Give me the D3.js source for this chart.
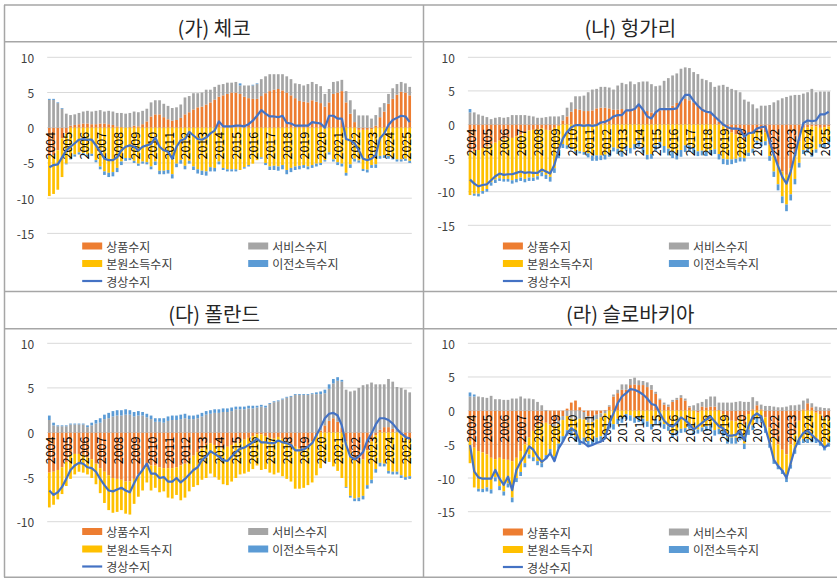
<!DOCTYPE html>
<html>
<head>
<meta charset="utf-8">
<script src="https://cdn.jsdelivr.net/npm/d3@7"></script>
<style>
  body { margin: 0; background: #fff; }
  svg { display: block; font-family: "Noto Sans CJK KR", "Noto Sans", sans-serif; }
</style>
</head>
<body>
<svg id="chart" width="837" height="579"></svg>
<script>
// quarterly, 2004Q1 - 2025Q2 (% of GDP)
var yearLabels = ["2004","2005","2006","2007","2008","2009","2010","2011","2012","2013","2014",
  "2015","2016","2017","2018","2019","2020","2021","2022","2023","2024","2025"];
var seriesNames = ["상품수지", "서비스수지", "본원소득수지", "이전소득수지"];
var lineName = "경상수지";

var czTicks = [10, 5, 0, -5, -10, -15];
var huTicks = [10, 5, 0, -5, -10, -15];
var plTicks = [10, 5, 0, -5, -10];
var skTicks = [10, 5, 0, -5, -10, -15];

// (가) 체코
var czGoods = [
  -4.0,-3.9,-3.2,-1.5, -0.8,0.3,0.4,0.5, 0.6,0.6,0.5,0.5, 0.6,0.6,0.5,0.4,
  0.2,0.1,0.0,0.1, 0.3,0.2,0.5,0.9, 1.6,1.9,1.9,1.5, 1.2,1.0,1.1,1.4,
  1.9,2.2,2.6,2.9, 3.0,3.3,3.6,4.0, 4.4,4.6,4.8,5.0, 5.0,4.8,4.4,4.2,
  4.1,4.1,4.5,4.9, 5.2,5.4,5.5,5.3, 5.0,4.6,4.2,3.8, 3.7,3.6,3.9,3.7,
  3.5,3.0,3.6,4.8, 5.0,5.2,3.6,2.0, 0.8,-0.3,-0.3,-0.3, -0.2,0.3,1.5,2.3,
  3.4,4.1,4.7,5.1, 5.0,4.6];
var czServices = [
  3.95,3.95,3.5,2.7, 2.0,1.5,1.5,1.6, 1.7,1.8,1.8,1.9, 1.9,1.7,1.9,1.9,
  1.9,2.0,2.0,2.0, 2.0,2.0,1.9,1.8, 2.0,2.0,2.0,1.9, 1.9,1.8,1.8,1.9,
  2.4,2.3,2.3,2.0, 2.0,2.1,1.8,1.8, 1.7,1.6,1.6,1.4, 1.5,1.2,1.6,1.8,
  1.9,2.1,2.4,2.4, 2.4,2.2,2.1,2.3, 2.3,2.3,2.1,2.4, 2.3,2.6,2.6,2.5,
  2.4,1.8,1.9,1.7, 1.6,1.6,1.6,1.9, 1.8,1.75,1.75,1.75, 1.3,1.5,1.4,1.2,
  1.4,1.5,1.5,1.4, 1.3,1.2];
var czPrimary = [
  -5.7,-5.5,-5.6,-5.5, -4.3,-4.3,-3.8,-3.5, -3.6,-3.8,-3.7,-4.6, -5.5,-6.2,-6.4,-6.3,
  -5.7,-4.8,-4.3,-4.3, -4.7,-5.1,-4.8,-4.9, -5.5,-4.8,-6.1,-6.1, -6.0,-6.6,-5.1,-4.6,
  -5.4,-4.7,-5.5,-5.9, -6.1,-6.2,-5.6,-5.7, -4.8,-5.7,-5.9,-5.9, -5.9,-6.0,-5.6,-5.3,
  -5.1,-4.6,-4.2,-5.0, -5.5,-5.4,-5.5,-5.3, -6.0,-5.7,-5.5,-5.4, -5.3,-5.5,-5.3,-5.1,
  -5.0,-4.6,-3.5,-4.5, -4.9,-5.1,-6.4,-5.2, -4.4,-4.35,-5.55,-5.65, -5.1,-5.2,-4.0,-3.9,
  -4.0,-4.2,-4.5,-4.5, -4.4,-4.7];
var czSecondary = [
  0.15,0.15,0.1,0.1, -0.1,-0.2,-0.3,-0.3, -0.3,-0.3,-0.3,-0.3, -0.4,-0.5,-0.6,-0.6,
  -0.6,-0.5,-0.4,-0.3, -0.3,-0.3,-0.3,-0.3, -0.4,-0.5,-0.5,-0.5, -0.5,-0.6,-0.5,-0.5,
  -0.5,-0.4,-0.5,-0.6, -0.6,-0.6,-0.6,-0.5, -0.4,-0.3,-0.3,-0.3, -0.3,0.3,-0.2,-0.2,
  0.1,0.1,-0.2,-0.3, -0.5,-0.6,-0.6,-0.6, -0.6,-0.6,-0.5,-0.5, -0.4,-0.4,-0.4,-0.4,
  -0.3,-0.2,-0.3,-0.3, -0.4,-0.4,-0.4,-0.5, -0.4,-0.3,-0.3,-0.4, -0.4,-0.5,-0.4,-0.4,
  -0.4,-0.3,-0.3,-0.3, -0.3,-0.3];
var czCurrent = [
  -5.6,-5.3,-5.2,-4.2, -3.2,-2.7,-2.2,-1.7, -1.6,-1.7,-1.7,-2.5, -3.4,-4.4,-4.6,-4.6,
  -4.2,-3.2,-2.7,-2.5, -2.7,-3.2,-2.7,-2.5, -2.3,-1.4,-2.7,-3.2, -3.4,-4.4,-2.7,-1.8,
  -1.6,-0.6,-1.1,-1.6, -1.7,-1.4,-0.8,-0.4, 0.9,0.2,0.2,0.2, 0.3,0.3,0.2,0.5,
  1.0,1.7,2.5,2.0, 1.6,1.6,1.5,1.7, 0.7,0.6,0.3,0.3, 0.3,0.3,0.8,0.7,
  0.6,0.0,1.7,1.7, 1.3,1.3,-1.6,-1.8, -2.2,-3.2,-4.4,-4.6, -4.4,-3.9,-1.5,-0.8,
  0.4,1.1,1.4,1.7, 1.6,0.8];

// (나) 헝가리
var huGoods = [
  -4.2,-4.0,-3.8,-3.5, -3.3,-3.0,-2.7,-2.4, -2.2,-2.0,-2.0,-1.8, -1.5,-1.2,-0.9,-0.8,
  -0.7,-0.6,-0.8,-0.9, -0.5,-0.2,0.6,1.2, 1.9,2.3,2.2,2.0, 2.0,2.1,2.4,2.5,
  2.5,2.4,2.2,2.2, 2.3,2.1,2.3,2.5, 2.8,2.3,2.0,1.8, 2.0,2.1,2.3,2.5,
  2.8,3.2,3.5,3.8, 3.6,3.3,2.9,2.4, 2.0,1.6,1.2,0.4, -0.3,-0.8,-1.2,-1.5,
  -1.5,-2.2,-1.5,-1.3, -1.0,-0.8,-1.2,-3.0, -4.5,-6.0,-7.0,-7.5, -6.5,-4.5,-2.5,-0.5,
  -0.4,-0.3,-0.3,-0.5, -0.4,-0.3];
var huServices = [
  1.8,1.8,1.5,1.3, 1.1,0.8,1.0,1.1, 1.0,1.1,1.4,1.4, 1.4,1.4,1.3,1.2,
  1.0,1.0,1.1,1.2, 1.2,1.2,0.8,1.3, 1.4,1.9,2.0,2.3, 2.8,3.1,2.9,3.1,
  3.1,3.1,3.0,3.6, 3.9,3.9,4.1,3.5, 3.5,4.1,4.4,4.2, 3.7,3.7,4.2,4.4,
  4.5,4.4,4.8,4.7, 4.8,4.5,4.6,4.4, 4.6,4.7,4.4,5.4, 5.9,5.6,5.3,5.1,
  4.8,3.7,3.4,3.0, 2.4,2.8,2.8,2.9, 3.3,3.6,3.9,4.1, 4.3,4.4,4.4,4.6,
  4.8,5.3,4.8,4.9, 4.9,4.9];
var huPrimary = [
  -6.3,-6.3,-6.5,-6.4, -6.3,-5.6,-5.5,-5.6, -5.9,-6.1,-6.3,-6.3, -6.4,-6.9,-7.0,-7.1,
  -7.0,-6.5,-6.7,-6.9, -6.0,-4.2,-2.9,-3.1, -3.4,-4.0,-4.0,-4.1, -4.3,-4.6,-4.6,-4.6,
  -4.5,-4.2,-3.4,-3.6, -4.0,-3.2,-3.5,-2.9, -2.4,-3.4,-4.5,-4.4, -3.1,-2.6,-3.2,-3.6,
  -4.0,-4.3,-3.8,-3.1, -3.1,-3.5,-4.0,-3.9, -4.0,-3.8,-3.7,-4.4, -4.8,-4.4,-4.0,-3.6,
  -3.4,-2.8,-2.7,-2.3, -1.4,-1.8,-1.3,-1.7, -2.5,-2.9,-3.7,-4.4, -3.9,-3.6,-3.2,-3.3,
  -3.2,-3.9,-3.4,-2.4, -2.5,-2.2];
var huSecondary = [
  0.5,-0.3,-0.4,-0.4, -0.4,-0.5,-0.5,-0.4, -0.4,-0.4,-0.5,-0.5, -0.5,-0.5,-0.5,-0.5,
  -0.5,-0.6,-0.6,-0.7, -0.7,-0.6,-0.6,-0.5, -0.3,-0.3,-0.3,-0.4, -0.6,-0.8,-0.8,-0.7,
  -0.7,-0.6,-0.6,-0.8, -0.8,-0.7,-0.8,-0.8, -0.9,-0.8,-0.7,-0.7, -0.8,-0.9,-1.0,-1.0,
  -1.0,-0.9,-1.0,-1.0, -0.9,-0.8,-0.7,-0.7, -0.7,-0.7,-0.7,-0.8, -0.8,-0.8,-0.7,-0.6,
  -0.6,-0.5,-0.5,-0.6, -0.6,-0.6,-0.6,-0.7, -0.8,-0.9,-1.0,-1.0, -0.9,-0.8,-0.7,-0.6,
  -0.6,-0.6,-0.5,-0.5, -0.5,-0.5];
var huCurrent = [
  -8.2,-8.8,-9.2,-9.0, -8.9,-8.3,-7.7,-7.3, -7.5,-7.4,-7.4,-7.2, -7.0,-7.2,-7.1,-7.2,
  -7.2,-6.7,-7.0,-7.3, -6.0,-3.8,-2.1,-1.1, -0.4,-0.1,-0.1,-0.2, -0.1,-0.2,-0.1,0.3,
  0.4,0.7,1.2,1.4, 1.4,2.1,2.1,2.3, 3.0,2.2,1.2,0.9, 1.8,2.3,2.3,2.3,
  2.3,2.4,3.5,4.4, 4.4,3.5,2.8,2.2, 1.9,1.8,1.2,0.6, 0.0,-0.4,-0.6,-0.6,
  -0.7,-1.8,-1.3,-1.2, -0.6,-0.4,-0.3,-2.5, -4.5,-6.2,-7.8,-8.8, -7.0,-4.5,-2.0,0.2,
  0.6,0.5,0.6,1.5, 1.5,1.9];

// (다) 폴란드
var plGoods = [
  -4.5,-4.4,-4.2,-3.9, -3.3,-2.5,-2.4,-2.4, -2.5,-2.8,-3.0,-3.5, -4.0,-4.4,-4.8,-5.1,
  -5.2,-5.3,-5.5,-5.5, -5.2,-4.7,-4.2,-3.9, -3.7,-3.7,-3.9,-4.0, -4.0,-4.0,-3.9,-3.7,
  -3.5,-3.1,-2.6,-2.2, -1.8,-1.4,-1.2,-1.4, -1.6,-1.8,-1.6,-1.4, -1.2,-1.0,-0.8,-0.6,
  -0.4,-0.2,-0.2,-0.4, -0.6,-0.7,-0.5,-0.7, -1.0,-1.3,-1.6,-1.8, -1.8,-1.5,-1.0,-0.4,
  0.2,0.8,1.3,1.6, 1.2,0.5,-1.0,-2.2, -3.0,-3.4,-3.0,-2.0, -1.0,-0.3,0.3,0.6,
  0.6,0.4,0.0,-0.3, -0.6,-0.8];
var plServices = [
  1.4,0.8,0.7,0.7, 0.7,0.9,0.9,0.9, 0.9,0.6,0.8,1.0, 1.1,1.5,1.6,1.8,
  1.9,1.9,2.0,2.0, 1.8,1.9,1.9,1.7, 1.5,1.2,1.2,1.1, 1.3,1.4,1.4,1.5,
  1.6,1.5,1.5,1.6, 1.8,2.0,2.1,2.2, 2.2,2.3,2.3,2.4, 2.6,2.6,2.6,2.7,
  2.7,2.8,2.9,2.8, 3.2,3.4,3.5,3.7, 3.9,4.0,4.2,4.2, 4.2,4.2,4.3,4.3,
  4.1,3.6,3.6,3.9, 4.6,5.2,4.8,4.6, 4.7,5.0,5.3,5.4, 5.6,5.4,5.1,4.8,
  5.4,5.3,5.1,5.0, 4.8,4.5];
var plPrimary = [
  -3.9,-3.7,-3.3,-3.0, -2.7,-2.7,-2.3,-2.0, -2.0,-1.9,-2.1,-2.3, -2.8,-3.5,-3.9,-3.9,
  -3.7,-3.4,-3.6,-3.7, -2.8,-2.5,-2.3,-1.7, -2.8,-2.5,-2.8,-2.6, -3.3,-3.4,-3.1,-3.9,
  -3.8,-3.5,-3.5,-3.7, -3.5,-3.7,-3.4,-3.6, -3.7,-4.0,-4.3,-4.1, -3.9,-3.7,-3.8,-3.8,
  -3.7,-3.5,-4.0,-3.7, -3.9,-4.0,-4.0,-4.2, -4.2,-4.2,-4.7,-4.5, -4.4,-4.4,-4.6,-4.4,
  -4.0,-3.2,-3.3,-3.8, -4.3,-5.1,-5.1,-4.9, -4.4,-3.9,-4.1,-3.9, -4.3,-3.8,-3.4,-3.5,
  -4.3,-4.4,-4.4,-4.5, -4.4,-4.1];
var plSecondary = [
  0.5,0.3,0.1,0.1, 0.1,0.1,0.1,0.1, 0.1,0.2,0.3,0.4, 0.5,0.5,0.6,0.6,
  0.6,0.6,0.6,0.5, 0.5,0.5,0.4,0.4, 0.4,0.4,0.4,0.5, 0.5,0.5,0.5,0.5,
  0.5,0.4,0.4,0.4, 0.4,0.4,0.4,0.4, 0.4,0.4,0.4,0.4, 0.3,0.3,0.3,0.3,
  0.3,0.2,0.2,0.2, 0.1,0.1,0.1,0.1, 0.1,0.1,0.1,0.1, 0.1,0.1,0.1,0.2,
  0.3,0.4,0.5,0.5, 0.4,0.2,-0.1,-0.2, -0.3,-0.4,-0.4,-0.4, -0.4,-0.4,-0.4,-0.3,
  -0.3,-0.3,-0.3,-0.3, -0.3,-0.3];
var plCurrent = [
  -6.5,-7.0,-6.7,-6.1, -5.2,-4.2,-3.7,-3.4, -3.5,-3.9,-4.0,-4.4, -5.2,-5.9,-6.5,-6.6,
  -6.4,-6.2,-6.5,-6.7, -5.7,-4.8,-4.2,-3.5, -4.6,-4.6,-5.1,-5.0, -5.5,-5.5,-5.1,-5.6,
  -5.2,-4.7,-4.2,-3.9, -3.1,-2.7,-2.1,-2.4, -2.7,-3.1,-3.2,-2.7, -2.2,-1.8,-1.7,-1.4,
  -1.1,-0.7,-1.1,-1.1, -1.2,-1.2,-0.9,-1.1, -1.2,-1.4,-2.0,-2.0, -1.9,-1.6,-1.2,-0.3,
  0.6,1.6,2.1,2.2, 1.9,0.8,-1.4,-2.7, -3.0,-2.7,-2.2,-0.9, -0.1,0.9,1.6,1.6,
  1.4,1.0,0.4,-0.1, -0.5,-0.7];

// (라) 슬로바키아
var skGoods = [
  -4.5,-5.5,-6.0,-6.2, -6.5,-7.0,-7.2,-7.0, -7.2,-7.3,-7.5,-7.0, -6.0,-5.0,-4.0,-3.0,
  -2.2,-2.0,-1.8,-2.0, -2.0,-1.5,-0.8,0.3, 1.2,1.5,0.5,-0.2, -0.8,-0.9,-0.6,-0.4,
  0.1,0.6,2.1,2.6, 3.1,3.1,3.8,3.9, 3.8,3.8,3.5,3.1, 2.5,1.6,0.9,0.6,
  1.3,1.6,1.9,1.5, 0.5,0.0,-0.3,0.6, 0.5,0.6,0.6,0.1, -0.5,-1.0,-1.5,-1.6,
  -1.2,-2.0,-0.5,0.2, 0.8,0.2,-1.0,-2.5, -4.0,-5.0,-5.8,-6.5, -5.0,-3.5,-1.5,0.2,
  1.1,0.5,-0.3,-0.6, -1.0,-1.2];
var skServices = [
  2.1,2.1,2.1,2.0, 1.9,2.2,1.7,1.7, 1.6,1.6,1.8,1.8, 2.1,1.8,1.8,1.7,
  1.3,0.8,0.1,-0.1, -0.3,-0.5,-0.6,-0.8, -1.2,-1.3,-1.2,-1.1, -1.0,-0.8,-0.7,-0.6,
  -0.4,0.2,0.3,0.5, 0.8,0.8,0.9,1.0, 0.7,0.6,0.7,0.7, 0.3,0.2,0.3,0.3,
  0.3,0.3,0.4,0.3, 0.2,0.8,1.1,0.7, 1.2,1.5,1.5,1.1, 1.2,1.2,1.2,1.3,
  1.4,1.3,1.3,1.8, 0.6,0.7,0.7,0.7, 0.6,0.5,0.5,0.6, 0.8,0.8,0.9,1.3,
  0.7,0.6,0.6,0.5, 0.4,0.35];
var skPrimary = [
  -3.3,-5.9,-5.6,-5.4, -4.9,-4.7,-2.7,-4.2, -4.8,-3.5,-5.4,-3.0, -3.1,-2.8,-2.5,-3.9,
  -5.3,-5.8,-4.8,-3.6, -4.5,-2.9,-2.4,-2.1, -1.8,-2.5,-3.1,-2.7, -2.7,-2.6,-2.7,-2.8,
  -3.0,-1.9,-2.0,-1.2, -1.0,-0.5,-0.7,-1.0, -0.9,-1.2,-1.6,-2.0, -1.2,-1.5,-2.0,-2.3,
  -3.3,-3.0,-2.7,-2.6, -2.1,-3.0,-2.5,-2.5, -2.3,-2.2,-2.9,-2.7, -2.5,-3.0,-2.5,-2.4,
  -2.3,-2.9,-2.3,-2.2, -1.1,-1.1,-1.7,-2.4, -3.3,-3.1,-3.0,-3.5, -3.0,-2.3,-3.0,-4.2,
  -4.2,-4.1,-3.9,-4.0, -4.3,-3.55];
var skSecondary = [
  0.6,0.3,-0.4,-0.5, -0.6,-0.6,-0.6,-0.6, -0.6,-0.6,-0.7,-0.6, -0.6,-0.6,-0.6,-0.6,
  -0.6,-0.6,-0.6,-0.6, -0.7,-0.7,-0.8,-0.8, -0.8,-0.8,-0.8,-0.8, -0.8,-0.8,-0.8,-0.8,
  -0.8,-0.8,-0.8,-0.8, -0.8,-0.8,-0.8,-0.8, -0.8,-0.8,-0.8,-0.8, -0.8,-0.7,-0.7,-0.7,
  -0.7,-0.7,-0.6,-0.6, -0.6,-0.6,-0.6,-0.6, -0.7,-0.8,-0.8,-0.8, -0.8,-0.9,-0.9,-0.9,
  -0.9,-0.8,-0.8,-0.7, -0.7,-0.7,-0.6,-0.6, -0.6,-0.6,-0.6,-0.6, -0.6,-0.6,-0.6,-0.6,
  -0.6,-0.6,-0.6,-0.6, -0.6,-0.6];
var skCurrent = [
  -5.1,-9.0,-9.9,-10.1, -10.1,-10.1,-8.8,-10.1, -11.0,-9.8,-11.8,-8.8, -7.6,-6.6,-5.3,-5.8,
  -6.8,-7.6,-7.1,-6.3, -7.5,-5.6,-4.6,-3.4, -2.6,-3.1,-4.6,-4.8, -5.3,-5.1,-4.8,-4.6,
  -4.1,-1.9,-0.4,1.1, 2.1,2.6,3.2,3.1, 2.8,2.4,1.8,1.0, 0.8,-0.4,-1.5,-2.1,
  -2.4,-1.8,-1.0,-1.4, -2.0,-2.8,-2.3,-1.8, -1.3,-0.9,-1.6,-2.3, -2.6,-3.7,-3.7,-3.6,
  -3.0,-4.4,-2.3,-0.9, -0.4,-0.9,-2.6,-4.8, -7.3,-8.2,-8.9,-10.0, -7.8,-5.6,-4.2,-3.3,
  -3.0,-3.6,-4.2,-4.7, -5.5,-5.0];

var colors = ["#ED7D31", "#A5A5A5", "#FFC000", "#5B9BD5"];
var lineColor = "#4472C4";
var keys = ["goods", "services", "primary", "secondary"];

var panels = [
  {title: "(가) 체코", series: [czGoods, czServices, czPrimary, czSecondary], current: czCurrent, ticks: czTicks,
   titleY: 27, left: 47.2, right: 411.8, top: 57.3, bottom: 233.4, legendY: 246},
  {title: "(나) 헝가리", series: [huGoods, huServices, huPrimary, huSecondary], current: huCurrent, ticks: huTicks,
   titleY: 27, left: 467.9, right: 830.8, top: 57.3, bottom: 225.3, legendY: 246},
  {title: "(다) 폴란드", series: [plGoods, plServices, plPrimary, plSecondary], current: plCurrent, ticks: plTicks,
   titleY: 313, left: 47.2, right: 411.8, top: 343.3, bottom: 521.7, legendY: 531.5},
  {title: "(라) 슬로바키아", series: [skGoods, skServices, skPrimary, skSecondary], current: skCurrent, ticks: skTicks,
   titleY: 313, left: 467.9, right: 830.8, top: 343.3, bottom: 511.7, legendY: 532}
];

var svg = d3.select("#chart");
svg.append("rect").attr("width", 837).attr("height", 579).attr("fill", "#fff");

// table frame
var frame = svg.append("g").attr("stroke", "#a6a6a6").attr("stroke-width", 1.5).attr("fill", "none");
[5, 41.7, 291.5, 328.7, 577.3].forEach(function (yy) {
  frame.append("line").attr("x1", 4).attr("x2", 837).attr("y1", yy).attr("y2", yy);
});
[4.5, 423.5].forEach(function (xx) {
  frame.append("line").attr("x1", xx).attr("x2", xx).attr("y1", 5).attr("y2", 577.3);
});

var quarters = [];
yearLabels.forEach(function (y) {
  for (var q = 1; q <= 4; q++) quarters.push(y + "Q" + q);
});
quarters = quarters.slice(0, czGoods.length);

panels.forEach(function (p) {
  var g = svg.append("g");
  var n = quarters.length;

  var x = d3.scaleBand()
    .domain(d3.range(n))
    .range([p.left, p.right])
    .paddingInner(0.36)
    .paddingOuter(0.18);

  var y = d3.scaleLinear()
    .domain([d3.min(p.ticks), d3.max(p.ticks)])
    .range([p.bottom, p.top]);

  // title
  g.append("text")
    .attr("x", (p.left < 400 ? 4.5 + 423.5 : 423.5 + 837) / 2)
    .attr("y", p.titleY)
    .attr("text-anchor", "middle")
    .attr("dominant-baseline", "central")
    .attr("font-size", 20)
    .attr("fill", "#262626")
    .text(p.title);

  // gridlines
  g.append("g").selectAll("line")
    .data(p.ticks)
    .enter().append("line")
    .attr("x1", p.left).attr("x2", p.right)
    .attr("y1", function (d) { return y(d); })
    .attr("y2", function (d) { return y(d); })
    .attr("stroke", "#d9d9d9")
    .attr("stroke-width", 1);

  // y tick labels
  g.append("g").selectAll("text")
    .data(p.ticks)
    .enter().append("text")
    .attr("x", p.left - 13)
    .attr("y", function (d) { return y(d); })
    .attr("text-anchor", "end")
    .attr("dominant-baseline", "central")
    .attr("font-size", 12)
    .attr("fill", "#404040")
    .text(function (d) { return d; });

  // stacked bars
  var rows = d3.range(n).map(function (i) {
    var r = {i: i};
    keys.forEach(function (k, j) { r[k] = p.series[j][i]; });
    return r;
  });
  var stacked = d3.stack().keys(keys).offset(d3.stackOffsetDiverging)(rows);

  g.append("g").selectAll("g")
    .data(stacked)
    .enter().append("g")
    .attr("fill", function (d, j) { return colors[j]; })
    .selectAll("rect")
    .data(function (d) { return d; })
    .enter().append("rect")
    .attr("x", function (d) { return x(d.data.i); })
    .attr("width", x.bandwidth())
    .attr("y", function (d) { return y(Math.max(d[0], d[1])); })
    .attr("height", function (d) { return Math.abs(y(d[0]) - y(d[1])); });

  // year labels at Q1 of each year
  var zeroY = y(0);
  g.append("g").selectAll("text")
    .data(yearLabels)
    .enter().append("text")
    .attr("transform", function (d, k) {
      var cx = x(k * 4) + x.bandwidth() / 2;
      return "translate(" + cx + "," + (zeroY + 4) + ") rotate(-90)";
    })
    .attr("text-anchor", "end")
    .attr("dominant-baseline", "central")
    .attr("font-size", 12.5)
    .attr("fill", "#000")
    .text(function (d) { return d; });

  // current account line
  var line = d3.line()
    .x(function (d, i) { return x(i) + x.bandwidth() / 2; })
    .y(function (d) { return y(d); });

  g.append("path")
    .datum(p.current)
    .attr("d", line)
    .attr("fill", "none")
    .attr("stroke", lineColor)
    .attr("stroke-width", 2.2)
    .attr("stroke-linejoin", "round");

  // legend
  var rowGap = 17.5;
  var leg = g.append("g").attr("font-size", 12).attr("fill", "#404040");
  var cols = [p.left + 35, p.left + 201];
  seriesNames.forEach(function (name, j) {
    var lx = cols[j % 2];
    var ly = p.legendY + Math.floor(j / 2) * rowGap;
    leg.append("rect")
      .attr("x", lx).attr("y", ly - 3.5)
      .attr("width", 20).attr("height", 7)
      .attr("fill", colors[j]);
    leg.append("text")
      .attr("x", lx + 24).attr("y", ly)
      .attr("dominant-baseline", "central")
      .text(name);
  });
  var ly3 = p.legendY + 2 * rowGap;
  leg.append("line")
    .attr("x1", cols[0]).attr("x2", cols[0] + 20)
    .attr("y1", ly3).attr("y2", ly3)
    .attr("stroke", lineColor).attr("stroke-width", 2.2);
  leg.append("text")
    .attr("x", cols[0] + 24).attr("y", ly3)
    .attr("dominant-baseline", "central")
    .text(lineName);
});
</script>
</body>
</html>
